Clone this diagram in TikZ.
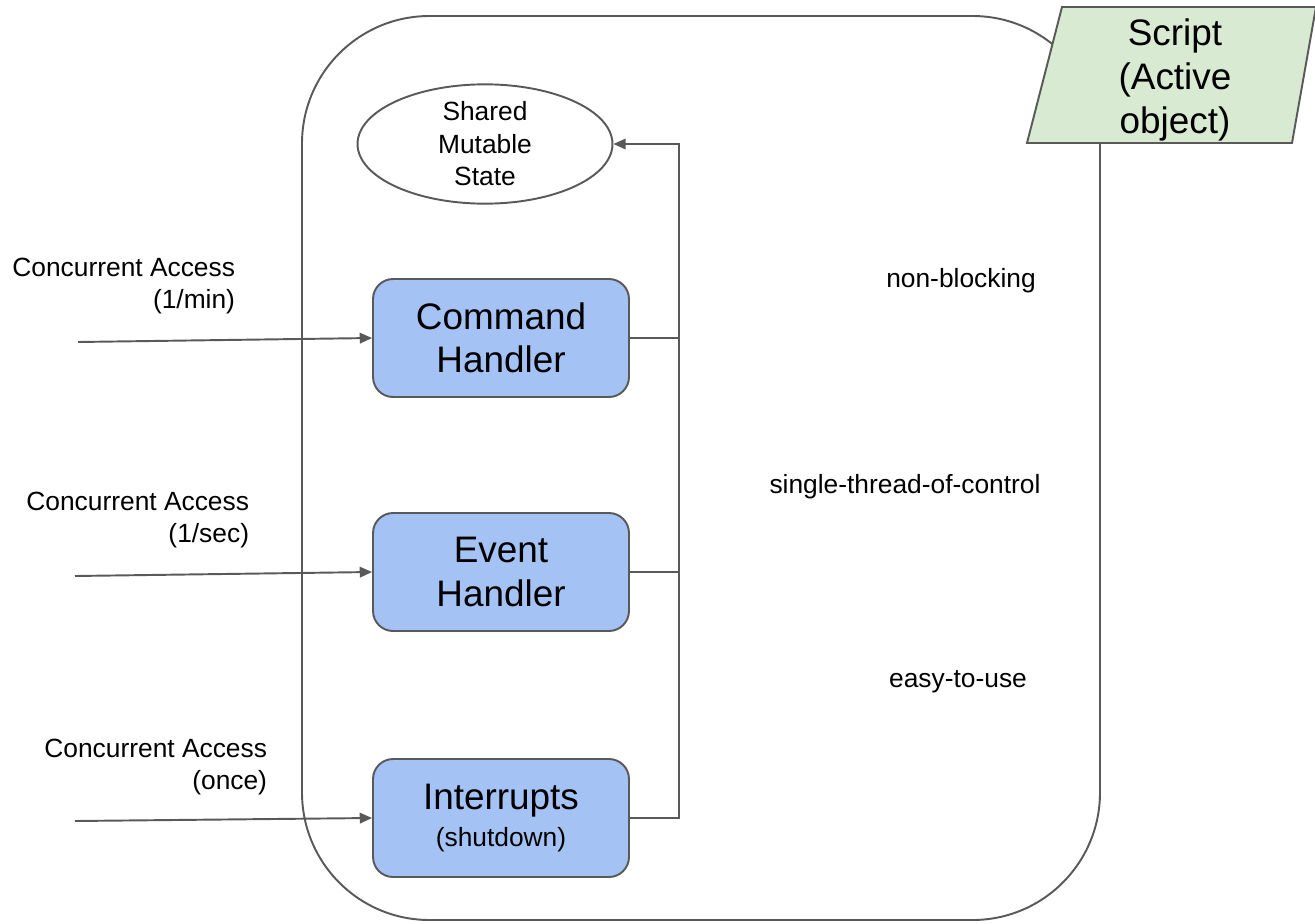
\documentclass[tikz,border=0pt]{standalone}
\usepackage{fontspec}
\setmainfont{Liberation Sans}
\usetikzlibrary{positioning}
\usetikzlibrary{arrows.meta}
\usetikzlibrary{shapes.geometric}

\definecolor{handlerblue}{HTML}{A4C2F4}
\definecolor{scriptgreen}{HTML}{D9EAD3}
\definecolor{linegray}{HTML}{595959}

\begin{document}
\begin{tikzpicture}[x=0.02cm, y=-0.02cm, line width=1.1pt, >={Triangle[length=7pt,width=6pt]},
    handler/.style={draw=linegray, fill=handlerblue, rounded corners=0.4cm, minimum width=5.12cm, minimum height=2.36cm, align=center, font=\fontsize{21}{24.5}\selectfont},
    small/.style={inner sep=0pt, align=center, font=\fontsize{15}{18.5}\selectfont},
    conn/.style={draw=linegray}]
    \useasboundingbox (0,0) rectangle (1315,923);

    % active object
    \draw[linegray, rounded corners=2.55cm] (302,16) rectangle (1100,920);
    \filldraw[draw=linegray, fill=scriptgreen] (1062,7) -- (1316,7) -- (1292,143) -- (1027,143) -- cycle;
    \node[align=center, inner sep=0pt, font=\fontsize{21}{25}\selectfont] (script) at (1175,80) {Script\\(Active\\object)};

    \node[draw=linegray, ellipse, minimum width=5.1cm, minimum height=2.34cm, small] (state) at (485,144) {Shared\\Mutable\\State};

    \node[handler] (cmd) at (501,338) {Command\\Handler};
    \node[handler] (evt) at (501,572) {Event\\Handler};
    \node[handler] (intr) at (501,818) {Interrupts\\[-3pt]{\fontsize{15}{18}\selectfont (shutdown)}};

    % outputs to shared state
    \coordinate (bus) at (679,144);
    \draw[conn, ->] (intr.east) -| (bus) -- (state.east);
    \draw[conn] (cmd.east) -- (cmd.east -| bus);
    \draw[conn] (evt.east) -- (evt.east -| bus);

    % concurrent inputs
    \coordinate (in1) at (78,342);
    \coordinate (in2) at (75,576);
    \coordinate (in3) at (75,821);
    \draw[conn, ->] (in1) -- (cmd.west);
    \draw[conn, ->] (in2) -- (evt.west);
    \draw[conn, ->] (in3) -- (intr.west);

    \node[small, align=right, anchor=east] (acc1) at (236,286) {Concurrent Access\\(1/min)};
    \node[small, align=right, anchor=east] (acc2) at (250,520) {Concurrent Access\\(1/sec)};
    \node[small, align=right, anchor=east] (acc3) at (268,767) {Concurrent Access\\(once)};

    \node[small] (nonblock) at (961,281) {non-blocking};
    \node[small] (single) at (905,487) {single-thread-of-control};
    \node[small] (easy) at (958,682) {easy-to-use};
\end{tikzpicture}
\end{document}
